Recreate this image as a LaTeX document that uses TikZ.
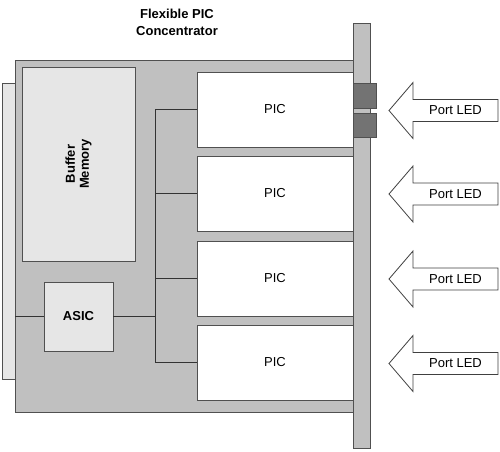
\documentclass[tikz,border=0pt]{standalone}
\usepackage{fontspec}
\setmainfont{Liberation Sans}
\usetikzlibrary{calc}

\definecolor{boardgray}{HTML}{C0C0C0}
\definecolor{lightgray}{HTML}{E6E6E6}
\definecolor{ledgray}{HTML}{737373}
\definecolor{edge}{HTML}{505050}

\begin{document}
\begin{tikzpicture}[x=1pt, y=-1pt]
  \tikzstyle{boite}=[draw=edge, line width=0.9pt, inner sep=0, outer sep=0];
  \tikzstyle{pic}=[boite, fill=white, minimum width=156pt, minimum height=75pt,
    font=\fontsize{13}{15}\selectfont];
  \tikzstyle{label}=[font=\fontsize{13}{15}\selectfont];
  \tikzstyle{fil}=[draw=black!80, line width=0.9pt];

  \useasboundingbox (0,0) rectangle (500,451);

  % carte et face avant
  \draw[boite, fill=lightgray] (2,83) rectangle (15,379);
  \draw[boite, fill=boardgray] (15,60) rectangle (353,412);

  \node[boite, fill=lightgray, minimum width=113pt, minimum height=194pt]
    (mem) at (78.5,164) {};
  \node[label, font=\fontsize{13}{14}\selectfont\bfseries, rotate=90, align=center]
    at (mem.center) {Buffer\\Memory};
  \node[boite, fill=lightgray, minimum width=69pt, minimum height=69pt,
    font=\fontsize{13}{15}\selectfont\bfseries] (asic) at (78.5,316.5) {ASIC};

  \node[pic] (pic1) at (275,109.5) {PIC};
  \node[pic] (pic2) at (275,193.5) {PIC};
  \node[pic] (pic3) at (275,278.5) {PIC};
  \node[pic] (pic4) at (275,362.5) {PIC};

  \draw[boite, fill=boardgray] (353,23) rectangle (370,448);
  \node[boite, fill=ledgray, minimum width=23pt, minimum height=25pt]
    (led1) at (364.5,95.5) {};
  \node[boite, fill=ledgray, minimum width=23pt, minimum height=24pt]
    (led2) at (364.5,125) {};

  % bus
  \coordinate (bus) at (155,0);
  \coordinate (bord) at (15,0);
  \draw[fil] (pic1.west -| bus) -- (pic4.west -| bus);
  \foreach \S in {pic1, pic2, pic3, pic4} {
    \draw[fil] (\S.west) -- (\S.west -| bus);
  }
  \draw[fil] (asic.west -| bord) -- (asic.west);
  \draw[fil] (asic.east) -- (asic.east -| bus);

  % fleches
  \foreach \i/\y in {1/110.5, 2/194, 3/279, 4/363.5} {
    \draw[draw=black!75, line width=0.8pt, fill=white, line join=miter]
      (389,\y) -- (413,\y-28) -- (413,\y-11) -- (498,\y-11)
      -- (498,\y+11) -- (413,\y+11) -- (413,\y+28) -- cycle;
    \node[label] (port\i) at (455.5,\y) {Port LED};
  }

  \node[label, font=\fontsize{13}{17}\selectfont\bfseries, align=center]
    (titre) at (177,22.5) {Flexible PIC\\Concentrator};
\end{tikzpicture}
\end{document}
